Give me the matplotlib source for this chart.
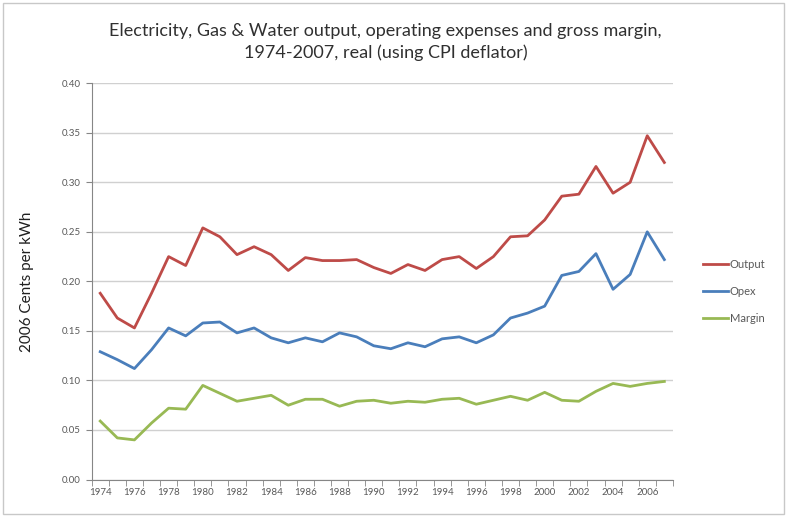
import matplotlib
matplotlib.use('Agg')
import matplotlib.pyplot as plt
import numpy as np
from matplotlib.ticker import MultipleLocator, FormatStrFormatter

plt.rcParams['font.family'] = ['Lato', 'DejaVu Sans']

# values
years = list(range(1974, 2008))
output = [0.188, 0.163, 0.153, 0.188, 0.225, 0.216, 0.254, 0.245, 0.227, 0.235,
          0.227, 0.211, 0.224, 0.221, 0.221, 0.222, 0.214, 0.208, 0.217, 0.211,
          0.222, 0.225, 0.213, 0.225, 0.245, 0.246, 0.262, 0.286, 0.288, 0.316,
          0.289, 0.300, 0.347, 0.320]
opex = [0.129, 0.121, 0.112, 0.131, 0.153, 0.145, 0.158, 0.159, 0.148, 0.153,
        0.143, 0.138, 0.143, 0.139, 0.148, 0.144, 0.135, 0.132, 0.138, 0.134,
        0.142, 0.144, 0.138, 0.146, 0.163, 0.168, 0.175, 0.206, 0.210, 0.228,
        0.192, 0.207, 0.250, 0.222]
margin = [0.059, 0.042, 0.040, 0.057, 0.072, 0.071, 0.095, 0.087, 0.079, 0.082,
          0.085, 0.075, 0.081, 0.081, 0.074, 0.079, 0.080, 0.077, 0.079, 0.078,
          0.081, 0.082, 0.076, 0.080, 0.084, 0.080, 0.088, 0.080, 0.079, 0.089,
          0.097, 0.094, 0.097, 0.099]
series_names = ['Output', 'Opex', 'Margin']
series_colors = ['#BE4B48', '#4A7EBB', '#98B954']

fig = plt.figure(figsize=(7.87, 5.17), dpi=100)
ax = fig.add_axes([0.1165, 0.0725, 0.7385, 0.7665])

for vals, name, col in zip([output, opex, margin], series_names, series_colors):
    ax.plot(years, vals, color=col, lw=2.0, label=name, solid_joinstyle='round')

ax.set_xlim(1973.5, 2007.5)
ax.set_ylim(0, 0.40)
ax.yaxis.set_major_locator(MultipleLocator(0.05))
ax.yaxis.set_major_formatter(FormatStrFormatter('%.2f'))
ax.set_xticks(years[::2])
ax.set_xticks(np.arange(1973.5, 2008, 1), minor=True)
ax.tick_params(axis='x', which='major', length=0, labelsize=7, colors='#595959', pad=6)
ax.tick_params(axis='x', which='minor', length=4, color='#868686', direction='out')
ax.tick_params(axis='y', which='major', length=4, color='#868686', labelsize=7,
               labelcolor='#595959', pad=4)
ax.grid(axis='y', color='#D0D0D0', lw=1)
ax.set_axisbelow(True)
for s in ['top', 'right']:
    ax.spines[s].set_visible(False)
for s in ['left', 'bottom']:
    ax.spines[s].set_color('#868686')

ax.set_ylabel('2006 Cents per kWh', fontsize=11, color='#202020', labelpad=20)
fig.suptitle('Electricity, Gas & Water output, operating expenses and gross margin,\n'
             '1974-2007, real (using CPI deflator)',
             fontsize=13, color='#303030', y=0.955, x=0.49, linespacing=1.4)

leg = ax.legend(loc='center left', bbox_to_anchor=(1.035, 0.475), frameon=False,
                fontsize=8, handlelength=2.2, handletextpad=0.2, labelspacing=1.45)
for t in leg.get_texts():
    t.set_color('#595959')

# light chart border
fig.patches.append(plt.Rectangle((0.004, 0.006), 0.992, 0.988, transform=fig.transFigure,
                                 fill=False, ec='#C8C8C8', lw=1))

fig.savefig('out.png', dpi=100)
